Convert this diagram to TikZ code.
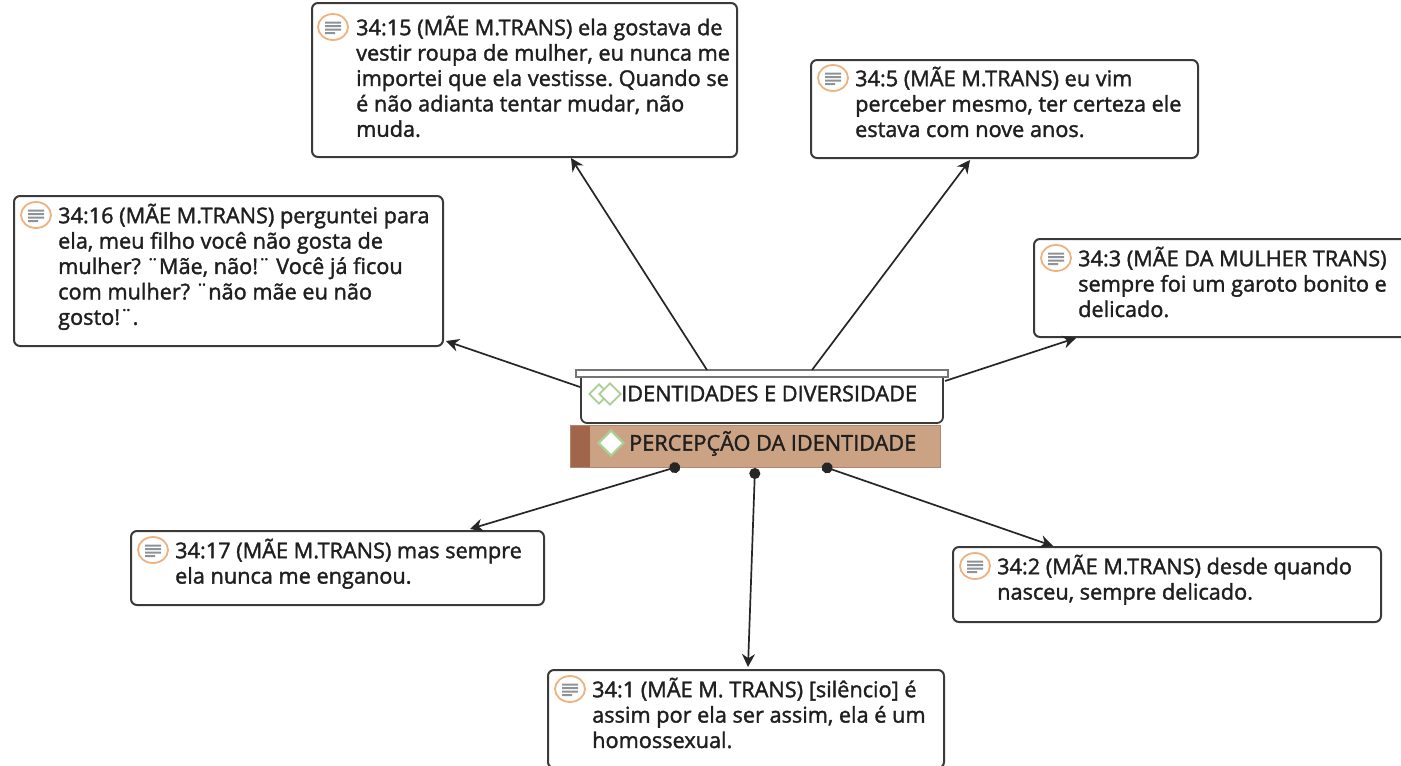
\documentclass[tikz,border=0pt]{standalone}
\usepackage{fontspec}
\setmainfont{Open Sans}[UprightFeatures={FakeBold=1.6}]
\frenchspacing
\usetikzlibrary{calc,arrows.meta,shapes.geometric}
\definecolor{boxline}{HTML}{3A3A3A}
\definecolor{tan}{HTML}{CBA283}
\definecolor{tandark}{HTML}{A0654A}
\definecolor{dia}{HTML}{A9CF94}
\definecolor{ring}{HTML}{EFB27F}
\definecolor{icon}{HTML}{8E9398}
\newcommand{\txt}{\fontsize{21.7pt}{25.4pt}\selectfont}
\tikzset{
  x=1pt,y=-1pt,
  quote/.style={draw=boxline,line width=2pt,rounded corners=6pt,fill=white,anchor=north west,inner sep=0pt,outer sep=0pt},
  body/.style={anchor=north west,inner sep=0pt,align=left,text=black!88,font=\txt},
  ico/.style={ellipse,draw=ring,line width=1.8pt,fill=white,minimum width=30pt,minimum height=26pt,inner sep=0pt},
  arr/.style={draw=black!85,line width=1.7pt,-{Stealth[length=13pt,width=13pt]}},
  dotarr/.style={draw=black!85,line width=1.7pt,{Circle[length=11pt,width=11pt]}-{Stealth[length=13pt,width=13pt]}},
}
\newcommand{\quotebox}[8]{% name x y w h iconx icony text
  \node[quote,minimum width=#4pt,minimum height=#5pt] (#1) at (#2,#3) {};
  \node[ico] (#1i) at ($(#1.north west)+(#6,#7)$) {};
  \fill[icon] ($(#1i.center)+(-8,-5.5)$) rectangle ($(#1i.center)+(8,-3.5)$)
              ($(#1i.center)+(-8,-2)$) rectangle ($(#1i.center)+(8,0)$)
              ($(#1i.center)+(-8,1.5)$) rectangle ($(#1i.center)+(8,3.5)$)
              ($(#1i.center)+(-8,5)$) rectangle ($(#1i.center)+(2,7)$);
  \node[body] (#1t) at ($(#1.north west)+(44,#7-11.5)$) {#8};
}
\begin{document}
\begin{tikzpicture}
\useasboundingbox (0,0) rectangle (1401,766);
\fill[white] (0,0) rectangle (1401,766);

\quotebox{qa}{312}{3}{425}{154}{21}{24}{34:15 (MÃE M.TRANS) ela gostava de\\vestir roupa de mulher, eu nunca me\\importei que ela vestisse. Quando se\\é não adianta tentar mudar, não\\muda.}
\quotebox{qb}{811}{60}{387}{98}{22}{18}{34:5 (MÃE M.TRANS) eu vim\\perceber mesmo, ter certeza ele\\estava com nove anos.}
\quotebox{qc}{14}{196}{429}{150}{22}{19}{34:16 (MÃE M.TRANS) perguntei para\\ela, meu filho você não gosta de\\mulher? ¨Mãe, não!¨ Você já ficou\\com mulher? ¨não mãe eu não\\gosto!¨.}
\quotebox{qd}{1034}{239}{375}{98}{22}{19}{34:3 (MÃE DA MULHER TRANS)\\sempre foi um garoto bonito e\\delicado.}
\quotebox{qe}{131}{531}{413}{74}{22}{19}{34:17 (MÃE M.TRANS) mas sempre\\ela nunca me enganou.}
\quotebox{qf}{953}{547}{428}{75}{22}{19}{34:2 (MÃE M.TRANS) desde quando\\nasceu, sempre delicado.}
\quotebox{qg}{548}{670}{396}{98}{22}{19}{34:1 (MÃE M. TRANS) [silêncio] é\\assim por ela ser assim, ela é um\\homossexual.}

% central nodes
\node[draw=boxline,line width=1.8pt,rounded corners=6pt,fill=white,anchor=north west,minimum width=362pt,minimum height=52pt,inner sep=0pt,outer sep=0pt] (id) at (581,371) {};
\node[draw=boxline!70,line width=1.7pt,fill=white,anchor=north west,minimum width=372pt,minimum height=7pt,inner sep=0pt,outer sep=0pt] (lid) at (576,370) {};
\node[draw=tandark!80,fill=tan,line width=1pt,anchor=north west,minimum width=370pt,minimum height=42pt,inner sep=0pt,outer sep=0pt] (pi) at (570,425) {};
\node[fill=tandark,anchor=north west,minimum width=19pt,minimum height=41pt,inner sep=0pt,outer sep=0pt] (pistrip) at (570.5,425.5) {};

\node[diamond,draw=dia,line width=1.8pt,fill=white,minimum size=20pt,inner sep=0pt] (d1) at (599,394) {};
\node[diamond,draw=dia,line width=1.8pt,fill=white,minimum size=22pt,inner sep=0pt] (d2) at (610,394) {};
\node[body,anchor=west] (idt) at (621,393.5) {IDENTIDADES E DIVERSIDADE};
\node[diamond,draw=dia,line width=2.2pt,fill=white,minimum size=26pt,inner sep=0pt] (d3) at (611,443) {};
\node[body,anchor=west] (pit) at (629,443.5) {PERCEPÇÃO DA IDENTIDADE};

% connector ends
\coordinate (sa) at ($(lid.north west)+(131,0)$);
\coordinate (sb) at ($(lid.north west)+(236,0)$);
\coordinate (sc) at ($(id.north west)+(-1,16)$);
\coordinate (sd) at ($(id.north east)+(2,10)$);
\coordinate (se) at ($(pi.south west)+(110,-1)$);
\coordinate (sf) at ($(pi.south west)+(185,1)$);
\coordinate (sg) at ($(pi.south west)+(252,-1)$);
\coordinate (ea) at ($(qa.south west)+(259,1)$);
\coordinate (eb) at ($(qb.south west)+(159,2)$);
\coordinate (ec) at ($(qc.south east)+(3,-5)$);
\coordinate (ed) at ($(qd.south west)+(42,1)$);
\coordinate (ee) at ($(qe.north west)+(339,-2)$);
\coordinate (ef) at ($(qf.north west)+(100,-1)$);
\coordinate (eg) at ($(qg.north west)+(200,-3)$);

\draw[arr] (sa) -- (ea);
\draw[arr] (sb) -- (eb);
\draw[arr] (sc) -- (ec);
\draw[arr] (sd) -- (ed);
\draw[dotarr] (se) -- (ee);
\draw[dotarr] (sf) -- (eg);
\draw[dotarr] (sg) -- (ef);
\end{tikzpicture}
\end{document}
